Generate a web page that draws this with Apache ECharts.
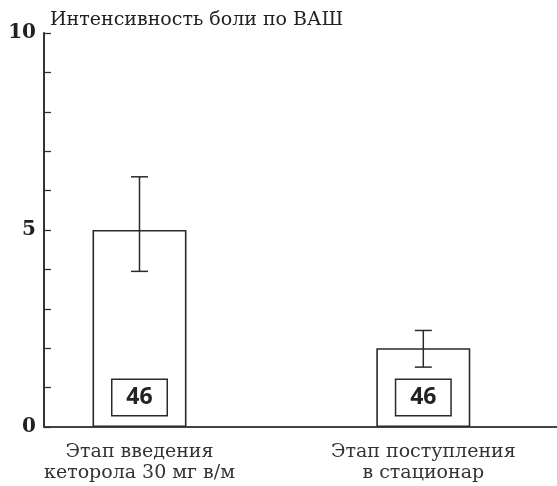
<!DOCTYPE html>
<html>
<head>
<meta charset="utf-8">
<script src="https://cdn.jsdelivr.net/npm/echarts@6/dist/echarts.min.js"></script>
<style>
  html, body { margin: 0; padding: 0; background: #fff; }
  #chart { width: 557px; height: 486px; }
</style>
</head>
<body>
<div id="chart"></div>
<script>
// Pain intensity (VAS) at two stages of care
const categories = ['Этап введения\nкеторола 30 мг в/м', 'Этап поступления\nв стационар'];
const meanValues = [5.0, 2.0];
const errUpper = [6.35, 2.45];
const errLower = [3.95, 1.52];
const sampleSizes = [46, 46];
const yTickLabels = ['0', '5', '10'];

const serif = '"DejaVu Serif", "Liberation Serif", serif';
const ink = '#222';

const chart = echarts.init(document.getElementById('chart'), null, { renderer: 'canvas' });

const gridTop = 33, gridBottom = 59;

chart.setOption({
  animation: false,
  backgroundColor: '#fff',
  title: {
    text: 'Интенсивность боли по ВАШ',
    left: 45, top: 6,
    textStyle: { fontFamily: serif, fontSize: 19, fontWeight: 'normal', color: ink }
  },
  grid: [
    { left: 44, right: 0, top: gridTop, bottom: gridBottom, outerBoundsMode: 'none' },
    { left: -2.4, width: 567.6, top: gridTop, bottom: gridBottom, outerBoundsMode: 'none' }
  ],
  xAxis: [
    {
      gridIndex: 0, type: 'value', min: 0, max: 1,
      axisLine: { show: true, onZero: false, lineStyle: { color: '#444', width: 2.2 } },
      axisTick: { show: false }, axisLabel: { show: false }, splitLine: { show: false }
    },
    {
      gridIndex: 1, type: 'category', data: categories,
      axisLine: { show: false }, axisTick: { show: false }, splitLine: { show: false },
      axisLabel: {
        fontFamily: serif, fontSize: 19, color: '#333', lineHeight: 21,
        margin: 15, verticalAlign: 'top', align: 'center'
      }
    }
  ],
  yAxis: [
    {
      gridIndex: 0, type: 'value', min: 0, max: 10, interval: 1,
      axisLine: { show: true, lineStyle: { color: '#333', width: 2 } },
      axisTick: { show: true, inside: true, length: 7, lineStyle: { color: '#333', width: 1.3 } },
      axisLabel: {
        margin: 8, fontFamily: serif, fontSize: 20, fontWeight: 'bold', color: ink,
        formatter: v => (yTickLabels.includes(String(v)) ? String(v) : '')
      },
      splitLine: { show: false }
    },
    {
      gridIndex: 1, type: 'value', min: 0, max: 10, show: false
    }
  ],
  series: [
    {
      type: 'bar', xAxisIndex: 1, yAxisIndex: 1,
      data: meanValues, barWidth: 94,
      itemStyle: { color: '#fff', borderColor: '#2a2a2a', borderWidth: 1.6 },
      label: {
        show: true, position: 'insideBottom', distance: 12,
        formatter: p => String(sampleSizes[p.dataIndex]),
        fontFamily: '"Open Sans", "DejaVu Sans", sans-serif', fontWeight: 'bold',
        fontSize: 23, color: ink,
        width: 54, height: 35, lineHeight: 35, align: 'center',
        backgroundColor: '#fff', borderColor: '#2a2a2a', borderWidth: 1.5, padding: 0
      },
      z: 2
    },
    {
      type: 'custom', xAxisIndex: 1, yAxisIndex: 1,
      data: meanValues.map((m, i) => [i, errLower[i], errUpper[i]]),
      renderItem: (params, api) => {
        const lo = api.coord([api.value(0), api.value(1)]);
        const hi = api.coord([api.value(0), api.value(2)]);
        const half = 8.5;
        const style = { stroke: '#2a2a2a', lineWidth: 1.5 };
        return {
          type: 'group',
          children: [
            { type: 'line', shape: { x1: hi[0], y1: hi[1], x2: lo[0], y2: lo[1] }, style },
            { type: 'line', shape: { x1: hi[0] - half, y1: hi[1], x2: hi[0] + half, y2: hi[1] }, style },
            { type: 'line', shape: { x1: lo[0] - half, y1: lo[1], x2: lo[0] + half, y2: lo[1] }, style }
          ]
        };
      },
      z: 3
    }
  ]
});
</script>
</body>
</html>
